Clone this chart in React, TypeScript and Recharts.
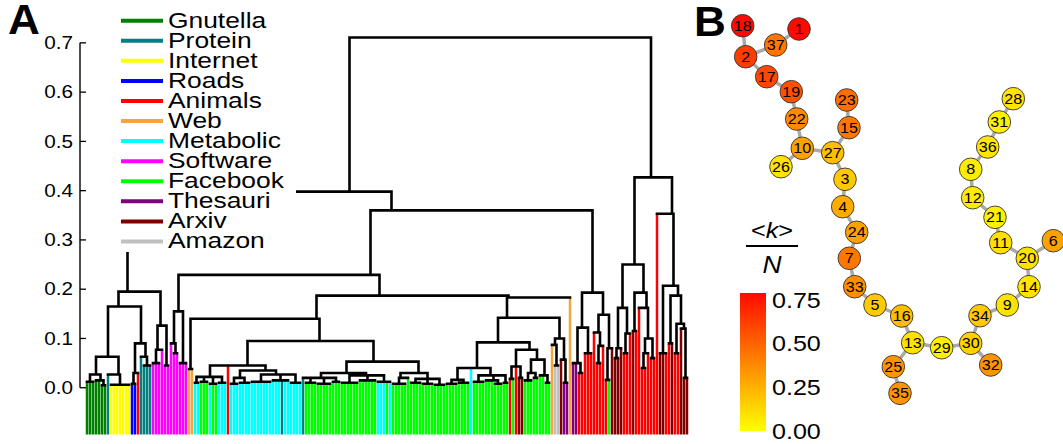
import React from "react";
import {
  LineChart,
  Line,
  XAxis,
  YAxis,
  ReferenceLine,
  Legend,
  ComposedChart,
  Scatter,
  BarChart,
  Bar,
} from "recharts";

// ---------------- Panel A data ----------------
const legendLabels = ["Gnutella", "Protein", "Internet", "Roads", "Animals", "Web", "Metabolic", "Software", "Facebook", "Thesauri", "Arxiv", "Amazon"];
const legendCodes = ["g", "p", "i", "r", "a", "w", "m", "s", "f", "t", "x", "z"];
const legendColors = ["#008000", "#008080", "#FFFF00", "#0000FF", "#FF0000", "#F2A541", "#00FFFF", "#FF00FF", "#00FF00", "#800080", "#800000", "#C0C0C0"];
const yTicks = [0, 0.1, 0.2, 0.3, 0.4, 0.5, 0.6, 0.7];
const yTickLabels = ["0.0", "0.1", "0.2", "0.3", "0.4", "0.5", "0.6", "0.7"];
const LEAF_BOTTOM = -0.095;

// tree nodes: [mergeHeight, ...children]; a string = leaves (one category code per leaf)
type TNode = (number | string | TNode)[];
const gnutellaBranch: TNode = [0.027, [0.012, "ggg"], [0.015, "gg", [0.005, "gg"]]];
const internetBranch: TNode = [0.027, "p", [0.006, "iiiiiii"]];
const roadsBranch: TNode = [0.03, [0.008, "rr"], "a"];
const proteinBranch: TNode = [0.063, "p", [0.045, "ppp"]];
const softwareLeft: TNode = [0.126, [0.077, [0.05, "sss"], "s"], [0.045, "ss"]];
const leftCluster: TNode = [0.195, [0.165, [0.063, gnutellaBranch, internetBranch], [0.09, roadsBranch, proteinBranch]], softwareLeft];
const softwareRight: TNode = [0.155, [0.09, "s", [0.07, "ss"]], [0.05, "sss"]];
const webPair: TNode = [0.038, "ww"];
const metabolicBranch: TNode = [0.045,
  [0.022, [0.01, "mm"], [0.012, "fff"], [0.008, "mf", "f"], [0.01, "mmm"]],
  "a",
  [0.035, [0.02, [0.008, "mmm"], [0.01, "mmmm"]], [0.027, [0.012, "mmmmmmm"], [0.015, "mmm", "p", "mm"], [0.01, "mmmm"]]]];
const facebookBranchA: TNode = [0.053,
  [0.03, [0.02, "p", [0.01, "ffff"], [0.008, "fffff"], [0.012, "fff"]], [0.025, [0.01, "ffffff"], [0.015, "ffffff"], [0.012, "mmm", "f", "m"]]],
  [0.03, [0.02, [0.008, "fffff"], "f"], [0.018, [0.01, "ffff"], [0.008, "ffff"], [0.006, "ffff"]]]];
const facebookBranchB: TNode = [0.04, [0.016, [0.008, "ffff"], [0.01, "ffff"]], "m", [0.025, [0.012, "ffff"], [0.015, "fff", [0.008, "fff"]], [0.01, "ff"]]];
const mixedBranch: TNode = [0.077, [0.043, [0.018, "a", "f"], "a", [0.02, "xx"]], [0.057, [0.03, [0.015, "fff"], [0.02, "ff"]], [0.025, "ff", [0.01, "ff"]]]];
const amazonBranch: TNode = [0.1, [0.087, "w", [0.045, "zz"]], [0.057, "x", [0.01, "tt"]]];
const middleBranch: TNode = [0.229, softwareRight,
  [0.187, [0.14, webPair, [0.095, metabolicBranch, facebookBranchA]],
    [0.183, [0.142, [0.092, facebookBranchB, mixedBranch], amazonBranch], "w"]]];
const animalsA: TNode = [0.193,
  [0.122, [0.05, "tt", [0.03, "aa"]], [0.07, "aaa"]],
  [0.148, [0.112, "a", [0.085, [0.05, "aa"], "a"]], [0.08, [0.016, "a", "f"], "x"]]];
const animalsB: TNode = [0.25,
  [0.162, [0.08, [0.06, "xx"], "x"], [0.11, [0.07, "aa"], "a"]],
  [0.193, [0.115, "x", "a"], [0.162, "a", [0.1, [0.07, [0.04, "aa"], "a"], [0.06, "aa"]]]]];
const animalsC: TNode = [0.353, "a",
  [0.207, [0.07, "xx", "a"], [0.187, [0.09, "a", "x"], [0.13, [0.07, "aa"], [0.12, "x", [0.02, "xx"]]]]]];
const dendroRoot: TNode = [0.711,
  [0.398, leftCluster, [0.36, middleBranch, animalsA]],
  [0.427, animalsB, animalsC]];

// ---------------- Panel B data ----------------
const nodeIds = [18, 1, 37, 2, 17, 19, 22, 23, 15, 10, 27, 26, 3, 4, 24, 7, 33, 5, 16, 13, 25, 35, 29, 30, 32, 34, 9, 14, 20, 6, 11, 21, 12, 8, 36, 31, 28];
const nodeX = [2.27, 7.9, 5.57, 2.57, 4.67, 7.13, 7.67, 12.67, 12.9, 8.23, 11.27, 6.1, 12.5, 12.27, 13.67, 12.93, 13.47, 15.5, 18.17, 19.27, 17.33, 18.0, 22.17, 25.07, 27.07, 26.0, 28.73, 30.9, 30.73, 33.33, 28.07, 27.5, 25.27, 25.07, 26.77, 27.93, 29.33];
const nodeY = [41.83, 41.5, 39.9, 38.73, 36.73, 35.23, 32.5, 34.4, 31.63, 29.57, 29.13, 27.73, 26.47, 23.73, 21.17, 18.57, 15.73, 13.9, 12.8, 10.13, 7.73, 5.07, 9.63, 10.07, 7.9, 12.83, 13.9, 15.73, 18.57, 20.33, 20.13, 22.67, 24.63, 27.47, 29.7, 32.2, 34.53];
const nodeK = [0.76, 0.76, 0.42, 0.6, 0.57, 0.54, 0.36, 0.45, 0.42, 0.29, 0.2, 0.08, 0.17, 0.26, 0.29, 0.42, 0.35, 0.16, 0.2, 0.09, 0.33, 0.33, 0.05, 0.14, 0.33, 0.16, 0.09, 0.08, 0.09, 0.29, 0.09, 0.05, 0.06, 0.06, 0.08, 0.05, 0.08];
const edgeList = [[18, 2], [2, 37], [37, 1], [2, 17], [17, 19], [19, 22], [22, 10], [10, 26], [10, 27], [27, 15], [15, 23], [27, 3], [3, 4], [4, 24], [24, 7], [7, 33], [33, 5], [5, 16], [16, 13], [13, 25], [25, 35], [13, 29], [29, 30], [30, 32], [30, 34], [34, 9], [9, 14], [14, 20], [20, 6], [20, 11], [11, 21], [21, 12], [12, 8], [8, 36], [36, 31], [31, 28]];
const cbTicks = [0, 0.25, 0.5, 0.75];
const cbTickLabels = ["0.00", "0.25", "0.50", "0.75"];
const cbMax = 0.79;

// ---------------- helpers ----------------
type P = { x: number; y: number | null };
function buildDendrogram(root: TNode) {
  let idx = 0;
  const colored: Record<string, P[]> = {};
  const black: P[] = [];
  const seg = (arr: P[], x1: number, y1: number, x2: number, y2: number) => {
    arr.push({ x: x1, y: y1 }, { x: x2, y: y2 }, { x: x2, y: null });
  };
  function walk(node: TNode): { x: number; h: number; n: number; sum: number } {
    const H = node[0] as number;
    const kids: { x: number; top: number; cat?: string }[] = [];
    let n = 0;
    let sum = 0;
    for (const c of node.slice(1)) {
      if (typeof c === "string") {
        for (const ch of c) {
          const x = idx++;
          kids.push({ x, top: LEAF_BOTTOM, cat: ch });
          n++;
          sum += x;
        }
      } else {
        const r = walk(c as TNode);
        kids.push({ x: r.x, top: r.h });
        n += r.n;
        sum += r.sum;
      }
    }
    for (const k of kids) {
      if (k.cat) {
        if (!colored[k.cat]) colored[k.cat] = [];
        seg(colored[k.cat], k.x, LEAF_BOTTOM, k.x, H);
      } else seg(black, k.x, k.top, k.x, H);
    }
    seg(black, kids[0].x, H, kids[kids.length - 1].x, H);
    return { x: sum / n, h: H, n, sum };
  }
  walk(root);
  return { colored, black };
}
const dendro = buildDendrogram(dendroRoot);
const X_MIN = -7 / 3;
const X_MAX = 203;

const FONT = "'Liberation Sans', Arial, Helvetica, sans-serif";
const SText = (props: { x: number; y: number; size: number; sx?: number; anchor?: string; weight?: string; italic?: boolean; children: React.ReactNode }) => (
  <text
    transform={`translate(${props.x} ${props.y}) scale(${props.sx ?? 1.2} 1)`}
    fontSize={props.size}
    fontFamily={FONT}
    fontWeight={props.weight ?? "normal"}
    fontStyle={props.italic ? "italic" : "normal"}
    textAnchor={props.anchor ?? "start"}
    fill="#000"
  >
    {props.children}
  </text>
);

const kColor = (v: number) => `rgb(255,${Math.round(255 * Math.max(0, 1 - v / cbMax))},0)`;

const nodes = nodeIds.map((id, i) => ({ id, x: nodeX[i], y: nodeY[i], k: nodeK[i] }));
const edgePts: P[] = [];
edgeList.forEach(([a, b]) => {
  const na = nodes.find((n) => n.id === a)!;
  const nb = nodes.find((n) => n.id === b)!;
  edgePts.push({ x: na.x, y: na.y }, { x: nb.x, y: nb.y }, { x: nb.x, y: null });
});

const LegendBox = () => (
  <svg width={196} height={252} style={{ display: "block", background: "#fff" }}>
    {legendLabels.map((lab, i) => {
      const cy = 20.7 + 20.07 * i;
      return (
        <g key={lab}>
          <line x1={21} x2={63} y1={cy} y2={cy} stroke={legendColors[i]} strokeWidth={4} />
          <SText x={68} y={cy + 7} size={22} sx={1.2}>{lab}</SText>
        </g>
      );
    })}
  </svg>
);

const YTick = (p: any) => {
  const i = yTicks.indexOf(p.payload.value);
  return (
    <g>
      <SText x={73} y={p.y + 6.3} size={18} sx={1.15} anchor="end">{yTickLabels[i]}</SText>
      <line x1={80} x2={86} y1={p.y} y2={p.y} stroke="#000" strokeWidth={1.3} />
    </g>
  );
};

const CbTick = (p: any) => {
  const i = cbTicks.indexOf(p.payload.value);
  return <SText x={52} y={p.y + 7.8} size={22} sx={1.14}>{cbTickLabels[i]}</SText>;
};

const NodeShape = (p: any) => {
  const { cx, cy, payload } = p;
  return (
    <g>
      <circle cx={cx} cy={cy} r={11.3} fill={kColor(payload.k)} stroke="#333" strokeWidth={0.9} />
      <SText x={cx} y={cy + 5} size={14} sx={1.15} anchor="middle">{String(payload.id)}</SText>
    </g>
  );
};

export default function App() {
  return (
    <div style={{ position: "absolute", left: 0, top: 0, width: 1063, height: 444, background: "#fff", overflow: "hidden" }}>
      {/* Panel A */}
      <div style={{ position: "absolute", left: 0, top: 0 }}>
        <LineChart width={700} height={444} margin={{ top: 33, right: 4, bottom: 7, left: 0 }}>
          <XAxis type="number" dataKey="x" domain={[X_MIN, X_MAX]} hide allowDataOverflow />
          <YAxis type="number" domain={[-0.1, 0.72]} ticks={yTicks} axisLine={false} tickLine={false} width={80} tick={<YTick />} allowDataOverflow interval={0} />
          {legendCodes.map((code, i) =>
            dendro.colored[code] ? (
              <Line key={code} data={dendro.colored[code]} dataKey="y" type="linear" stroke={legendColors[i]} strokeWidth={2.5} dot={false} activeDot={false} isAnimationActive={false} strokeLinecap="butt" />
            ) : null
          )}
          <Line data={dendro.black} dataKey="y" type="linear" stroke="#000" strokeWidth={2.6} dot={false} activeDot={false} isAnimationActive={false} strokeLinecap="square" />
          <ReferenceLine segment={[{ x: X_MIN, y: 0 }, { x: X_MIN, y: 0.7 }]} stroke="#000" strokeWidth={1.4} ifOverflow="visible" />
          <Legend layout="vertical" align="center" verticalAlign="middle" wrapperStyle={{ left: 100, top: 0, width: 196, height: 252, background: "#fff" }} content={() => <LegendBox />} />
        </LineChart>
      </div>
      {/* Panel B network */}
      <div style={{ position: "absolute", left: 720, top: 0 }}>
        <ComposedChart width={343} height={444} margin={{ top: 0, right: 0, bottom: 0, left: 0 }}>
          <XAxis type="number" dataKey="x" domain={[0, 34.3]} hide allowDataOverflow />
          <YAxis type="number" dataKey="y" domain={[0, 44.4]} hide allowDataOverflow />
          <Line data={edgePts} dataKey="y" type="linear" stroke="#A9A9A9" strokeWidth={3.5} dot={false} activeDot={false} isAnimationActive={false} />
          <Scatter data={nodes} shape={<NodeShape />} isAnimationActive={false} />
        </ComposedChart>
      </div>
      {/* Colour bar */}
      <div style={{ position: "absolute", left: 720, top: 280 }}>
        <BarChart width={120} height={164} data={[{ name: "k", v: cbMax }]} margin={{ top: 13, right: 0, bottom: 13, left: 20 }} barCategoryGap={0}>
          <defs>
            <linearGradient id="kgrad" x1="0" y1="0" x2="0" y2="1">
              <stop offset="0%" stopColor="#FF0A00" />
              <stop offset="50%" stopColor="#FF8400" />
              <stop offset="100%" stopColor="#FFFF00" />
            </linearGradient>
          </defs>
          <XAxis dataKey="name" hide />
          <YAxis orientation="right" type="number" domain={[0, cbMax]} ticks={cbTicks} axisLine={false} tickLine={false} width={74} tick={<CbTick />} interval={0} />
          <Bar dataKey="v" fill="url(#kgrad)" isAnimationActive={false} />
        </BarChart>
      </div>
      {/* Panel labels and colour-bar title */}
      <svg width={1063} height={444} style={{ position: "absolute", left: 0, top: 0, pointerEvents: "none" }}>
        <SText x={8} y={34} size={42} sx={1.05} weight="bold">A</SText>
        <SText x={694} y={36} size={42} sx={1.05} weight="bold">B</SText>
        <text x={772} y={238} textAnchor="middle" fontSize={22} fontFamily={FONT} transform="translate(772 0) scale(1.15 1) translate(-772 0)">
          &lt;<tspan fontStyle="italic">k</tspan>&gt;
        </text>
        <line x1={746} x2={798} y1={246} y2={246} stroke="#000" strokeWidth={2} />
        <SText x={772} y={273} size={24} sx={1.1} italic anchor="middle">N</SText>
      </svg>
    </div>
  );
}
